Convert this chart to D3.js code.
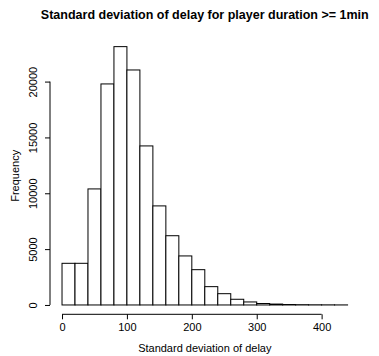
<!DOCTYPE html>
<html>
<head>
<meta charset="utf-8">
<script src="https://cdn.jsdelivr.net/npm/d3@7"></script>
<style>
  body { margin: 0; background: #fff; }
  svg text { font-family: "Liberation Sans", Arial, sans-serif; fill: #000; }
</style>
</head>
<body>
<div id="chart"></div>
<script>
// Histogram bins (width 20) and counts
var binStarts = [0, 20, 40, 60, 80, 100, 120, 140, 160, 180, 200, 220, 240, 260, 280, 300, 320, 340, 360, 380, 400, 420];
var counts = [3730, 3730, 10390, 19790, 23130, 21040, 14240, 8870, 6200, 4390, 3160, 1640, 1010, 510, 270, 130, 80, 40, 25, 15, 10, 5];
var binWidth = 20;
var xTicks = [0, 100, 200, 300, 400];
var yTicks = [0, 5000, 10000, 15000, 20000];

var width = 379, height = 356;
var plot = { left: 50.6, right: 359, top: 36.3, bottom: 315.3 };

var svg = d3.select("#chart").append("svg")
    .attr("width", width)
    .attr("height", height);

// R-style 4% padding on both axes
var xMin = 0, xMax = d3.max(binStarts) + binWidth;
var xPad = (xMax - xMin) * 0.04;
var x = d3.scaleLinear()
    .domain([xMin - xPad, xMax + xPad])
    .range([plot.left, plot.right]);

var yMax = d3.max(counts);
var yPad = yMax * 0.04;
var y = d3.scaleLinear()
    .domain([-yPad, yMax + yPad])
    .range([plot.bottom, plot.top]);

// Bars
svg.append("g")
    .selectAll("rect")
    .data(counts)
    .join("rect")
        .attr("x", (d, i) => x(binStarts[i]))
        .attr("width", x(binWidth) - x(0))
        .attr("y", d => y(d))
        .attr("height", d => y(0) - y(d))
        .attr("fill", "white")
        .attr("stroke", "#000")
        .attr("stroke-width", 1);

// X axis
var xAxis = svg.append("g")
    .attr("transform", `translate(0,${plot.bottom - 1})`)
    .call(d3.axisBottom(x).tickValues(xTicks).tickSize(5).tickPadding(4))
    .call(g => g.select(".domain").remove());
xAxis.append("line")
    .attr("x1", x(xTicks[0])).attr("x2", x(xTicks[xTicks.length - 1]))
    .attr("stroke", "#000");
xAxis.selectAll(".tick text")
    .style("font-size", "11px")
    .attr("fill", "#000");

// Y axis with rotated tick labels
var yAxis = svg.append("g")
    .attr("transform", `translate(${plot.left - 0.6},0)`)
    .call(d3.axisLeft(y).tickValues(yTicks).tickSize(5).tickFormat(d3.format("d")))
    .call(g => g.select(".domain").remove());
yAxis.append("line")
    .attr("y1", y(yTicks[0])).attr("y2", y(yTicks[yTicks.length - 1]))
    .attr("stroke", "#000");
yAxis.selectAll(".tick text")
    .attr("x", 0)
    .attr("dy", 0)
    .attr("text-anchor", "middle")
    .attr("transform", "translate(-13,0) rotate(-90)")
    .style("font-size", "11px")
    .attr("fill", "#000");

// Titles
svg.append("text")
    .attr("x", (plot.left + plot.right) / 2)
    .attr("y", 19)
    .attr("text-anchor", "middle")
    .style("font-size", "12.5px")
    .style("font-weight", "bold")
    .text("Standard deviation of delay for player duration >= 1min");

svg.append("text")
    .attr("x", (plot.left + plot.right) / 2)
    .attr("y", 352)
    .attr("text-anchor", "middle")
    .style("font-size", "11px")
    .text("Standard deviation of delay");

svg.append("text")
    .attr("transform", `translate(19,${(plot.top + plot.bottom) / 2}) rotate(-90)`)
    .attr("text-anchor", "middle")
    .style("font-size", "11px")
    .text("Frequency");
</script>
</body>
</html>
